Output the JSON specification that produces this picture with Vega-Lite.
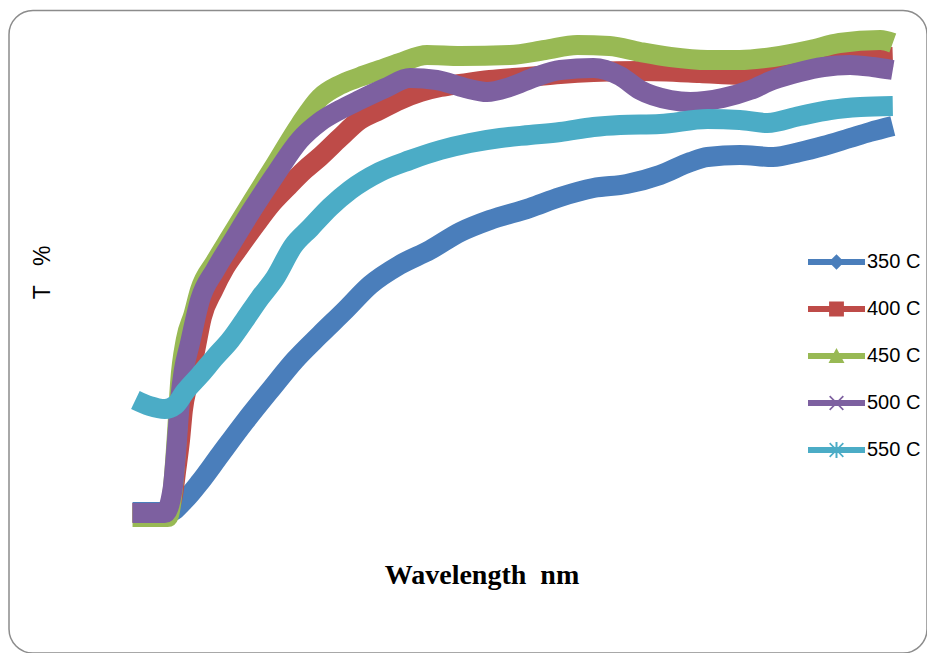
{
  "$schema": "https://vega.github.io/schema/vega-lite/v6.json",
  "width": 918,
  "height": 642.5,
  "autosize": "none",
  "padding": {"left": 9, "top": 10.5, "right": 0, "bottom": 0},
  "background": "white",
  "config": {
    "view": {"stroke": "#8c8c8c", "strokeWidth": 1.5, "cornerRadius": 24}
  },
  "data": {
    "values": [
      {"series": "350 C", "nm": 300, "T": 1.7},
      {"series": "350 C", "nm": 339, "T": 1.7},
      {"series": "350 C", "nm": 355, "T": 4.1},
      {"series": "350 C", "nm": 371, "T": 7.7},
      {"series": "350 C", "nm": 392, "T": 13.1},
      {"series": "350 C", "nm": 418, "T": 19.7},
      {"series": "350 C", "nm": 445, "T": 26.1},
      {"series": "350 C", "nm": 471, "T": 32.1},
      {"series": "350 C", "nm": 497, "T": 37.1},
      {"series": "350 C", "nm": 524, "T": 42.1},
      {"series": "350 C", "nm": 550, "T": 47.1},
      {"series": "350 C", "nm": 581, "T": 51.1},
      {"series": "350 C", "nm": 613, "T": 54.1},
      {"series": "350 C", "nm": 645, "T": 57.7},
      {"series": "350 C", "nm": 676, "T": 60.1},
      {"series": "350 C", "nm": 718, "T": 62.5},
      {"series": "350 C", "nm": 750, "T": 64.7},
      {"series": "350 C", "nm": 785, "T": 66.5},
      {"series": "350 C", "nm": 820, "T": 67.3},
      {"series": "350 C", "nm": 855, "T": 69.1},
      {"series": "350 C", "nm": 887, "T": 71.7},
      {"series": "350 C", "nm": 905, "T": 72.7},
      {"series": "350 C", "nm": 939, "T": 73.1},
      {"series": "350 C", "nm": 974, "T": 72.7},
      {"series": "350 C", "nm": 1002, "T": 73.7},
      {"series": "350 C", "nm": 1027, "T": 74.9},
      {"series": "350 C", "nm": 1055, "T": 76.5},
      {"series": "350 C", "nm": 1076, "T": 77.7},
      {"series": "350 C", "nm": 1100, "T": 78.9},

      {"series": "400 C", "nm": 300, "T": 1.5},
      {"series": "400 C", "nm": 335, "T": 1.5},
      {"series": "400 C", "nm": 342, "T": 4.5},
      {"series": "400 C", "nm": 346, "T": 10.1},
      {"series": "400 C", "nm": 350, "T": 16.1},
      {"series": "400 C", "nm": 353, "T": 22.1},
      {"series": "400 C", "nm": 358, "T": 27.1},
      {"series": "400 C", "nm": 366, "T": 34.1},
      {"series": "400 C", "nm": 373, "T": 40.7},
      {"series": "400 C", "nm": 385, "T": 46.1},
      {"series": "400 C", "nm": 397, "T": 50.5},
      {"series": "400 C", "nm": 410, "T": 54.1},
      {"series": "400 C", "nm": 429, "T": 59.1},
      {"series": "400 C", "nm": 445, "T": 63.1},
      {"series": "400 C", "nm": 463, "T": 66.7},
      {"series": "400 C", "nm": 481, "T": 70.1},
      {"series": "400 C", "nm": 497, "T": 72.7},
      {"series": "400 C", "nm": 518, "T": 76.5},
      {"series": "400 C", "nm": 539, "T": 80.1},
      {"series": "400 C", "nm": 560, "T": 82.1},
      {"series": "400 C", "nm": 581, "T": 84.1},
      {"series": "400 C", "nm": 603, "T": 85.7},
      {"series": "400 C", "nm": 624, "T": 86.7},
      {"series": "400 C", "nm": 645, "T": 87.3},
      {"series": "400 C", "nm": 676, "T": 88.1},
      {"series": "400 C", "nm": 715, "T": 88.7},
      {"series": "400 C", "nm": 750, "T": 89.3},
      {"series": "400 C", "nm": 785, "T": 89.7},
      {"series": "400 C", "nm": 834, "T": 89.9},
      {"series": "400 C", "nm": 897, "T": 89.5},
      {"series": "400 C", "nm": 939, "T": 89.1},
      {"series": "400 C", "nm": 981, "T": 89.7},
      {"series": "400 C", "nm": 1013, "T": 90.9},
      {"series": "400 C", "nm": 1044, "T": 91.9},
      {"series": "400 C", "nm": 1076, "T": 92.5},
      {"series": "400 C", "nm": 1100, "T": 92.7},

      {"series": "450 C", "nm": 300, "T": 0.7},
      {"series": "450 C", "nm": 337, "T": 0.7},
      {"series": "450 C", "nm": 343, "T": 7.5},
      {"series": "450 C", "nm": 347, "T": 18.1},
      {"series": "450 C", "nm": 350, "T": 27.5},
      {"series": "450 C", "nm": 356, "T": 36.1},
      {"series": "450 C", "nm": 364, "T": 41.1},
      {"series": "450 C", "nm": 371, "T": 46.1},
      {"series": "450 C", "nm": 387, "T": 51.7},
      {"series": "450 C", "nm": 403, "T": 56.7},
      {"series": "450 C", "nm": 427, "T": 64.1},
      {"series": "450 C", "nm": 450, "T": 71.1},
      {"series": "450 C", "nm": 476, "T": 79.1},
      {"series": "450 C", "nm": 497, "T": 84.5},
      {"series": "450 C", "nm": 518, "T": 87.1},
      {"series": "450 C", "nm": 539, "T": 88.7},
      {"series": "450 C", "nm": 560, "T": 90.1},
      {"series": "450 C", "nm": 581, "T": 91.5},
      {"series": "450 C", "nm": 610, "T": 93.1},
      {"series": "450 C", "nm": 645, "T": 92.9},
      {"series": "450 C", "nm": 697, "T": 93.1},
      {"series": "450 C", "nm": 734, "T": 94.1},
      {"series": "450 C", "nm": 768, "T": 95.1},
      {"series": "450 C", "nm": 802, "T": 94.9},
      {"series": "450 C", "nm": 834, "T": 93.7},
      {"series": "450 C", "nm": 866, "T": 92.7},
      {"series": "450 C", "nm": 905, "T": 92.1},
      {"series": "450 C", "nm": 939, "T": 92.1},
      {"series": "450 C", "nm": 974, "T": 92.7},
      {"series": "450 C", "nm": 1013, "T": 94.1},
      {"series": "450 C", "nm": 1044, "T": 95.5},
      {"series": "450 C", "nm": 1087, "T": 96.1},
      {"series": "450 C", "nm": 1100, "T": 95.5},

      {"series": "500 C", "nm": 300, "T": 1.5},
      {"series": "500 C", "nm": 334, "T": 1.5},
      {"series": "500 C", "nm": 342, "T": 6.1},
      {"series": "500 C", "nm": 346, "T": 14.1},
      {"series": "500 C", "nm": 350, "T": 24.1},
      {"series": "500 C", "nm": 354, "T": 30.1},
      {"series": "500 C", "nm": 360, "T": 35.1},
      {"series": "500 C", "nm": 371, "T": 44.1},
      {"series": "500 C", "nm": 387, "T": 50.1},
      {"series": "500 C", "nm": 403, "T": 55.1},
      {"series": "500 C", "nm": 427, "T": 62.5},
      {"series": "500 C", "nm": 450, "T": 69.1},
      {"series": "500 C", "nm": 476, "T": 76.1},
      {"series": "500 C", "nm": 497, "T": 79.7},
      {"series": "500 C", "nm": 518, "T": 82.1},
      {"series": "500 C", "nm": 539, "T": 84.1},
      {"series": "500 C", "nm": 566, "T": 86.5},
      {"series": "500 C", "nm": 592, "T": 88.5},
      {"series": "500 C", "nm": 620, "T": 88.1},
      {"series": "500 C", "nm": 650, "T": 86.5},
      {"series": "500 C", "nm": 673, "T": 85.7},
      {"series": "500 C", "nm": 697, "T": 86.7},
      {"series": "500 C", "nm": 724, "T": 88.7},
      {"series": "500 C", "nm": 750, "T": 90.1},
      {"series": "500 C", "nm": 785, "T": 90.5},
      {"series": "500 C", "nm": 813, "T": 88.9},
      {"series": "500 C", "nm": 834, "T": 86.1},
      {"series": "500 C", "nm": 866, "T": 84.1},
      {"series": "500 C", "nm": 887, "T": 83.7},
      {"series": "500 C", "nm": 921, "T": 84.5},
      {"series": "500 C", "nm": 950, "T": 86.1},
      {"series": "500 C", "nm": 974, "T": 88.1},
      {"series": "500 C", "nm": 1002, "T": 89.7},
      {"series": "500 C", "nm": 1027, "T": 90.7},
      {"series": "500 C", "nm": 1055, "T": 91.1},
      {"series": "500 C", "nm": 1079, "T": 90.7},
      {"series": "500 C", "nm": 1100, "T": 90.1},

      {"series": "550 C", "nm": 303, "T": 24.1},
      {"series": "550 C", "nm": 318, "T": 22.9},
      {"series": "550 C", "nm": 334, "T": 22.3},
      {"series": "550 C", "nm": 345, "T": 23.1},
      {"series": "550 C", "nm": 355, "T": 25.7},
      {"series": "550 C", "nm": 371, "T": 29.1},
      {"series": "550 C", "nm": 387, "T": 32.7},
      {"series": "550 C", "nm": 403, "T": 36.1},
      {"series": "550 C", "nm": 418, "T": 40.1},
      {"series": "550 C", "nm": 434, "T": 44.5},
      {"series": "550 C", "nm": 450, "T": 48.5},
      {"series": "550 C", "nm": 469, "T": 54.9},
      {"series": "550 C", "nm": 487, "T": 58.5},
      {"series": "550 C", "nm": 508, "T": 62.7},
      {"series": "550 C", "nm": 529, "T": 66.1},
      {"series": "550 C", "nm": 560, "T": 69.7},
      {"series": "550 C", "nm": 592, "T": 72.1},
      {"series": "550 C", "nm": 624, "T": 74.1},
      {"series": "550 C", "nm": 655, "T": 75.5},
      {"series": "550 C", "nm": 687, "T": 76.5},
      {"series": "550 C", "nm": 718, "T": 77.1},
      {"series": "550 C", "nm": 750, "T": 77.7},
      {"series": "550 C", "nm": 785, "T": 78.7},
      {"series": "550 C", "nm": 813, "T": 79.1},
      {"series": "550 C", "nm": 855, "T": 79.3},
      {"series": "550 C", "nm": 905, "T": 80.3},
      {"series": "550 C", "nm": 939, "T": 80.1},
      {"series": "550 C", "nm": 968, "T": 79.5},
      {"series": "550 C", "nm": 1002, "T": 80.9},
      {"series": "550 C", "nm": 1034, "T": 82.1},
      {"series": "550 C", "nm": 1066, "T": 82.7},
      {"series": "550 C", "nm": 1100, "T": 82.9}
    ]
  },
  "encoding": {
    "x": {
      "field": "nm", "type": "quantitative",
      "scale": {"domain": [170, 1136], "nice": false, "zero": false},
      "axis": {
        "title": "Wavelength\u00a0 nm", "domain": false, "ticks": false, "labels": false, "grid": false,
        "titleFont": "Liberation Serif", "titleFontSize": 28, "titleFontWeight": "bold", "titleColor": "black",
        "titleX": 472.5, "titleY": -70, "titleAlign": "center", "titleBaseline": "alphabetic"
      }
    },
    "y": {
      "field": "T", "type": "quantitative",
      "scale": {"domain": [-26.5, 102], "nice": false, "zero": false},
      "axis": {
        "title": "T\u00a0\u00a0\u00a0%", "domain": false, "ticks": false, "labels": false, "grid": false,
        "titleFont": "Liberation Sans", "titleFontSize": 23, "titleFontWeight": "normal", "titleColor": "black",
        "titleAngle": 270, "titleX": 33, "titleY": 261.5, "titleAlign": "center", "titleBaseline": "middle"
      }
    }
  },
  "layer": [
    {
      "mark": {"type": "line", "strokeWidth": 20, "interpolate": "monotone", "strokeCap": "butt", "strokeJoin": "round"},
      "encoding": {
        "stroke": {
          "field": "series", "type": "nominal",
          "scale": {"range": ["#4A7EBB", "#BE4B48", "#98B954", "#7D60A0", "#4BACC6"]},
          "legend": null
        }
      }
    },
    {
      "mark": {"type": "point", "filled": true, "opacity": 0, "size": 3249, "strokeWidth": 0},
      "encoding": {
        "color": {
          "field": "series", "type": "nominal",
          "scale": {"domain": ["350 C", "400 C", "450 C", "500 C", "550 C"], "range": ["#4A7EBB", "#BE4B48", "#98B954", "#7D60A0", "#4BACC6"]},
          "legend": {
            "title": null, "orient": "none", "legendX": 799, "legendY": 223,
            "padding": 0, "rowPadding": 8,
            "symbolSize": 3249, "symbolStrokeWidth": 0, "symbolOpacity": 1, "labelOffset": 2,
            "labelFont": "Liberation Sans", "labelFontSize": 20, "labelColor": "black"
          }
        },
        "shape": {
          "field": "series", "type": "nominal",
          "scale": {
            "domain": ["350 C", "400 C", "450 C", "500 C", "550 C"],
            "range": [
              "M-1,-0.105H1V0.105H-1Z M0,-0.27L0.27,0L0,0.27L-0.27,0Z",
              "M-1,-0.105H1V0.105H-1Z M-0.26,-0.26H0.26V0.26H-0.26Z",
              "M-1,-0.105H1V0.105H-1Z M0,-0.28L0.28,0.245L-0.28,0.245Z",
              "M-1,-0.105H1V0.105H-1Z M-0.26,-0.22L-0.22,-0.26L0.26,0.22L0.22,0.26Z M0.22,-0.26L0.26,-0.22L-0.22,0.26L-0.26,0.22Z",
              "M-1,-0.105H1V0.105H-1Z M-0.26,-0.22L-0.22,-0.26L0.26,0.22L0.22,0.26Z M0.22,-0.26L0.26,-0.22L-0.22,0.26L-0.26,0.22Z M-0.035,-0.28H0.035V0.28H-0.035Z"
            ]
          },
          "legend": {
            "title": null, "orient": "none", "legendX": 799, "legendY": 223,
            "padding": 0, "rowPadding": 8,
            "symbolSize": 3249, "symbolStrokeWidth": 0, "symbolOpacity": 1, "labelOffset": 2,
            "labelFont": "Liberation Sans", "labelFontSize": 20, "labelColor": "black"
          }
        }
      }
    }
  ]
}
